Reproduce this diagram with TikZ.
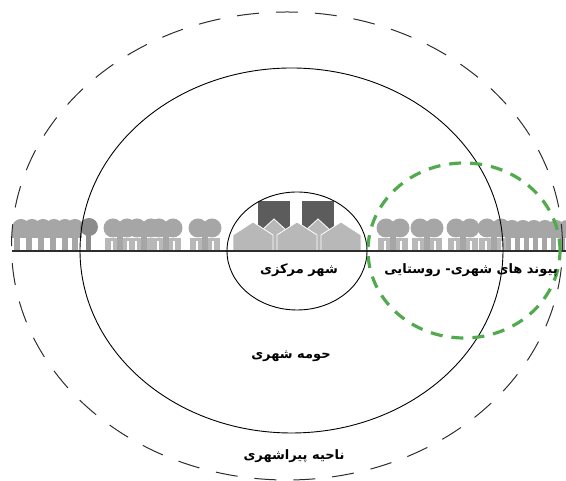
\documentclass[tikz,border=0pt]{standalone}
\usepackage{fontspec}
\usepackage{tikz}
\newfontfamily\arabicfont[Script=Arabic]{DejaVu Sans}
\TeXXeTstate=1
\definecolor{tree_gray}{RGB}{166, 166, 166}
\definecolor{dark_tree}{RGB}{140, 140, 140}
\definecolor{house_gray}{RGB}{184, 184, 184}
\definecolor{bld_gray}{RGB}{92, 92, 92}
\definecolor{link_green}{RGB}{82, 170, 78}
\definecolor{line_gray}{RGB}{45, 45, 45}
\tikzstyle{ring}=[draw=black,line width=0.9pt]
\tikzstyle{zone}=[draw=line_gray,line width=1pt,dash pattern=on 22pt off 17pt]
\tikzstyle{lnk}=[draw=link_green,line width=3.2pt,dash pattern=on 12pt off 9pt]
\tikzstyle{lbl}=[font=\arabicfont\bfseries\fontsize{13}{15}\selectfont,inner sep=1pt]
\tikzstyle{hs}=[fill=house_gray,draw=white,line width=0.8pt]
\newcommand{\twintree}[1]{%
  \fill[house_gray] (#1-15,230) rectangle (#1+15,243);
  \fill[tree_gray] (#1-3,230) rectangle (#1+3,248);
  \fill[tree_gray] (#1-7,253) circle (9.5pt) (#1+7,253) circle (9.5pt);
  \draw[white,line width=1.2pt] (#1-8,230) -- (#1-8,240) (#1+8,230) -- (#1+8,240);}

\begin{document}
\begin{tikzpicture}[x=1pt,y=1pt]
    \useasboundingbox (0,0) rectangle (566,481);
    \foreach \x in {21,32,43,54,65,75} \fill[tree_gray] (\x,253) circle (9pt);
    \fill[tree_gray] (12,243) rectangle (82,253);
    \foreach \x in {14,26,38,50,62,72} \fill[tree_gray] (\x,230) rectangle (\x+6,246);
    \fill[dark_tree] (89,254) circle (9pt);
    \fill[dark_tree] (86,230) rectangle (91,248);
    \foreach \x in {120,144,166,205,393,427,463,494} \twintree{\x};
    \foreach \x in {512,523,534,545,556,567} \fill[tree_gray] (\x,252) circle (9pt);
    \fill[tree_gray] (505,243) rectangle (566,252);
    \foreach \x in {506,515,524,533,542,551,560} \fill[tree_gray] (\x,230) rectangle (\x+5,246);
    \fill[bld_gray] (258,250) rectangle (290,280);
    \fill[bld_gray] (302,250) rectangle (334,280);
    \path[hs] (262,230) -- (262,251) -- (274,262) -- (286,251) -- (286,230) -- cycle;
    \path[hs] (306,230) -- (306,251) -- (318,262) -- (330,251) -- (330,230) -- cycle;
    \path[hs] (233,230) -- (233,246) -- (253,259) -- (273,246) -- (273,230) -- cycle;
    \path[hs] (277,230) -- (277,246) -- (297,259) -- (317,246) -- (317,230) -- cycle;
    \path[hs] (321,230) -- (321,246) -- (341,259) -- (361,246) -- (361,230) -- cycle;
    \coordinate (gl) at (12,230);
    \coordinate (gr) at (566,230);
    \draw[line_gray,line width=2pt] (gl) -- (gr);
    \path[zone] (287,235) ellipse [x radius=275.5pt, y radius=234pt];
    \path[ring] (291.5,230.5) ellipse [x radius=211.5pt, y radius=182.5pt];
    \path[ring] (297,230) ellipse [x radius=70pt, y radius=59pt];
    \path[lnk] (464,230.5) ellipse [x radius=96pt, y radius=87.5pt];
    \node[lbl] (cc) at (299,211) {\beginR شهر مرکزی\endR};
    \node[lbl] (lk) at (471,211) {\beginR پیوند های شهری- روستایی\endR};
    \node[lbl] (sb) at (291,125) {\beginR حومه شهری\endR};
    \node[lbl] (pu) at (294,25) {\beginR ناحیه پیراشهری\endR};
\end{tikzpicture}
\end{document}
